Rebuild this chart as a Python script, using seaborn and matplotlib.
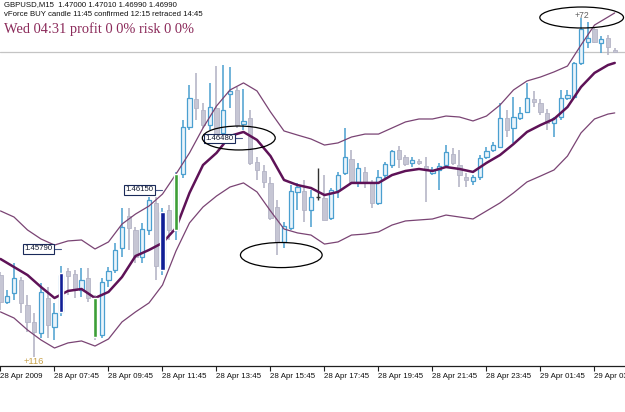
import numpy as np
import pandas as pd
import seaborn as sns
import matplotlib.pyplot as plt
from matplotlib.patches import Ellipse

# GBPUSD M15, 28 Apr 2009 05:45 -> 29 Apr 04:30
TICK_BARS = [0, 8, 16, 24, 32, 40, 48, 56, 64, 72, 80, 88]
TICK_LABELS = ["28 Apr 2009", "28 Apr 07:45", "28 Apr 09:45", "28 Apr 11:45",
               "28 Apr 13:45", "28 Apr 15:45", "28 Apr 17:45", "28 Apr 19:45",
               "28 Apr 21:45", "28 Apr 23:45", "29 Apr 01:45", "29 Apr 03:45"]

OPEN = [1.45628, 1.45464, 1.45519, 1.45598, 1.45445, 1.45342, 1.45275, 1.45488, 1.45311, 1.45403,
        1.45653, 1.45634, 1.45537, 1.45610, 1.45488, 1.45262, 1.45598, 1.45659, 1.45793, 1.45988,
        1.45903, 1.45738, 1.45903, 1.46068, 1.45671, 1.46025, 1.45903, 1.46244, 1.46531, 1.46702,
        1.46635, 1.46543, 1.46647, 1.46495, 1.46732, 1.46757, 1.46549, 1.46586, 1.46318, 1.46263,
        1.46190, 1.46043, 1.45830, 1.45915, 1.46135, 1.46141, 1.46025, 1.46104, 1.46098, 1.45976,
        1.46147, 1.46250, 1.46336, 1.46196, 1.46257, 1.46196, 1.46068, 1.46238, 1.46299, 1.46391,
        1.46348, 1.46312, 1.46324, 1.46293, 1.46250, 1.46269, 1.46299, 1.46366, 1.46299, 1.46226,
        1.46202, 1.46226, 1.46348, 1.46391, 1.46409, 1.46586, 1.46525, 1.46586, 1.46623, 1.46702,
        1.46678, 1.46617, 1.46556, 1.46592, 1.46708, 1.46714, 1.46922, 1.47050, 1.47129, 1.47044,
        1.47074, 1.47000]
HIGH = [1.45647, 1.45537, 1.45702, 1.45616, 1.45506, 1.45397, 1.45580, 1.45555, 1.45458, 1.45683,
        1.45671, 1.45659, 1.45671, 1.45671, 1.45506, 1.45610, 1.45677, 1.45824, 1.46037, 1.46037,
        1.45921, 1.45946, 1.46104, 1.46104, 1.46037, 1.46055, 1.46257, 1.46574, 1.46787, 1.46861,
        1.46678, 1.46800, 1.46903, 1.46909, 1.46897, 1.46775, 1.46763, 1.46635, 1.46348, 1.46299,
        1.46226, 1.46086, 1.45952, 1.46177, 1.46190, 1.46208, 1.46147, 1.46281, 1.46238, 1.46159,
        1.46257, 1.46525, 1.46391, 1.46312, 1.46287, 1.46208, 1.46269, 1.46318, 1.46391, 1.46415,
        1.46360, 1.46348, 1.46336, 1.46348, 1.46287, 1.46312, 1.46421, 1.46403, 1.46391, 1.46250,
        1.46238, 1.46360, 1.46409, 1.46440, 1.46678, 1.46635, 1.46714, 1.46653, 1.46800, 1.46751,
        1.46702, 1.46641, 1.46592, 1.46757, 1.46757, 1.46928, 1.47196, 1.47172, 1.47141, 1.47086,
        1.47092, 1.47010]
LOW = [1.45415, 1.45451, 1.45476, 1.45397, 1.45281, 1.45128, 1.45244, 1.45244, 1.45232, 1.45378,
       1.45506, 1.45488, 1.45494, 1.45464, 1.45232, 1.45244, 1.45555, 1.45641, 1.45738, 1.45781,
       1.45702, 1.45702, 1.45872, 1.45598, 1.45628, 1.45842, 1.45842, 1.46220, 1.46513, 1.46574,
       1.46525, 1.46513, 1.46440, 1.46452, 1.46647, 1.46525, 1.46513, 1.46299, 1.46208, 1.46159,
       1.45964, 1.45750, 1.45793, 1.45903, 1.46025, 1.45952, 1.45921, 1.46086, 1.45964, 1.45964,
       1.46098, 1.46238, 1.46190, 1.46165, 1.46159, 1.46037, 1.46055, 1.46220, 1.46281, 1.46281,
       1.46293, 1.46287, 1.46299, 1.46074, 1.46238, 1.46147, 1.46287, 1.46299, 1.46165, 1.46165,
       1.46177, 1.46208, 1.46336, 1.46379, 1.46403, 1.46470, 1.46434, 1.46574, 1.46617, 1.46653,
       1.46604, 1.46513, 1.46470, 1.46574, 1.46696, 1.46708, 1.46909, 1.47013, 1.47044, 1.46983,
       1.46970, 1.46990]
CLOSE = [1.45464, 1.45500, 1.45610, 1.45458, 1.45342, 1.45281, 1.45525, 1.45323, 1.45397, 1.45628,
         1.45622, 1.45537, 1.45598, 1.45488, 1.45250, 1.45586, 1.45653, 1.45781, 1.45921, 1.45915,
         1.45738, 1.45909, 1.46086, 1.45683, 1.46013, 1.45903, 1.46238, 1.46531, 1.46708, 1.46647,
         1.46543, 1.46653, 1.46452, 1.46635, 1.46751, 1.46543, 1.46568, 1.46312, 1.46269, 1.46196,
         1.45976, 1.45830, 1.45927, 1.46141, 1.46165, 1.46025, 1.46104, 1.46104, 1.45964, 1.46147,
         1.46238, 1.46348, 1.46196, 1.46281, 1.46190, 1.46068, 1.46226, 1.46305, 1.46385, 1.46336,
         1.46305, 1.46330, 1.46312, 1.46269, 1.46269, 1.46293, 1.46379, 1.46312, 1.46238, 1.46208,
         1.46226, 1.46342, 1.46385, 1.46421, 1.46586, 1.46513, 1.46592, 1.46617, 1.46708, 1.46684,
         1.46623, 1.46556, 1.46586, 1.46708, 1.46726, 1.46922, 1.47129, 1.47074, 1.47050, 1.47068,
         1.47019, 1.46990]

# bollinger bands (20) read every second bar
BAND_BARS = list(range(0, 91, 2)) + [91]
MIDDLE = [1.45726, 1.45677, 1.45628, 1.45555, 1.45488, 1.45531, 1.45543, 1.45488, 1.45525, 1.45616,
          1.45744, 1.45781, 1.45824, 1.45915, 1.46129, 1.46299, 1.46373, 1.46476, 1.46501, 1.46452,
          1.46354, 1.46208, 1.46177, 1.46159, 1.46116, 1.46135, 1.46190, 1.46190, 1.46190, 1.46238,
          1.46263, 1.46275, 1.46263, 1.46287, 1.46275, 1.46257, 1.46312, 1.46360, 1.46427, 1.46501,
          1.46543, 1.46580, 1.46653, 1.46775, 1.46861, 1.46909, 1.46922]
UPPER = [1.46019, 1.45982, 1.45903, 1.45848, 1.45811, 1.45836, 1.45842, 1.45787, 1.45830, 1.45939,
         1.46000, 1.46049, 1.46122, 1.46244, 1.46373, 1.46525, 1.46659, 1.46757, 1.46800, 1.46751,
         1.46623, 1.46507, 1.46482, 1.46458, 1.46421, 1.46434, 1.46470, 1.46488, 1.46488, 1.46525,
         1.46562, 1.46580, 1.46580, 1.46598, 1.46592, 1.46568, 1.46598, 1.46665, 1.46757, 1.46812,
         1.46836, 1.46867, 1.46903, 1.47031, 1.47153, 1.47202, 1.47227]
LOWER = [1.45403, 1.45366, 1.45293, 1.45232, 1.45183, 1.45214, 1.45226, 1.45195, 1.45238, 1.45342,
         1.45403, 1.45458, 1.45567, 1.45775, 1.45946, 1.46043, 1.46110, 1.46165, 1.46190, 1.46135,
         1.46019, 1.45909, 1.45885, 1.45872, 1.45817, 1.45830, 1.45872, 1.45878, 1.45891, 1.45933,
         1.45958, 1.45964, 1.45970, 1.45994, 1.45982, 1.45970, 1.46019, 1.46068, 1.46129, 1.46196,
         1.46232, 1.46269, 1.46354, 1.46495, 1.46580, 1.46610, 1.46617]

# vForce signal / confirmation bars
VF_BARS = [9, 14, 24, 26]
VF_TOP = [1.45641, 1.45488, 1.46013, 1.46244]
VF_BOTTOM = [1.45403, 1.45250, 1.45659, 1.45903]
VF_KIND = ["signal", "confirm", "signal", "confirm"]

LEVEL_BARS = [5.6, 20.6, 32.4]
LEVEL_PRICES = [1.45787, 1.46147, 1.46461]
LEVEL_TEXT = ["1.45790", "1.46150", "1.46480"]

BID = 1.46990

BULL_EDGE = "#4a9fd0"
BULL_FILL = "#eaf4fb"
BEAR_COLOR = "#c6c6d4"
BAND_COLOR = "#7a4474"
MA_COLOR = "#5e1257"


def draw_candles(ax, df):
    bull = df["close"] > df["open"]
    bear = df["close"] < df["open"]
    doji = df["close"] == df["open"]
    body_lo = df[["open", "close"]].min(axis=1)
    body_h = (df["close"] - df["open"]).abs()

    ax.vlines(df.loc[bull, "bar"], df.loc[bull, "low"], df.loc[bull, "high"],
              color=BULL_EDGE, lw=1.1, zorder=2)
    ax.vlines(df.loc[bear, "bar"], df.loc[bear, "low"], df.loc[bear, "high"],
              color="#b0b0c2", lw=1.1, zorder=2)
    ax.vlines(df.loc[doji, "bar"], df.loc[doji, "low"], df.loc[doji, "high"],
              color="#303030", lw=1.0, zorder=2)
    ax.hlines(df.loc[doji, "close"], df.loc[doji, "bar"] - 0.3, df.loc[doji, "bar"] + 0.3,
              color="#303030", lw=1.0, zorder=3)

    ax.bar(df.loc[bull, "bar"], body_h[bull], bottom=body_lo[bull], width=0.6,
           color=BULL_FILL, edgecolor=BULL_EDGE, linewidth=0.9, zorder=3)
    ax.bar(df.loc[bear, "bar"], body_h[bear].clip(lower=0.00003), bottom=body_lo[bear],
           width=0.6, color=BEAR_COLOR, edgecolor="#b4b4c6", linewidth=0.6, zorder=3)


def main():
    sns.set_theme(style="white")
    plt.rcParams["font.family"] = ["Liberation Sans", "DejaVu Sans"]

    candles = pd.DataFrame({"bar": np.arange(len(OPEN)), "open": OPEN, "high": HIGH,
                            "low": LOW, "close": CLOSE})
    bands = pd.DataFrame({"bar": BAND_BARS, "middle": MIDDLE, "upper": UPPER, "lower": LOWER})

    fig = plt.figure(figsize=(6.25, 4.12), dpi=100)
    ax = fig.add_axes([0, 46 / 412, 1, 366 / 412])

    ax.axhline(BID, color="#c4c4c4", lw=0.9, zorder=1)

    sns.lineplot(data=bands, x="bar", y="upper", ax=ax, color=BAND_COLOR, lw=0.9, zorder=4)
    sns.lineplot(data=bands, x="bar", y="lower", ax=ax, color=BAND_COLOR, lw=0.9, zorder=4)

    draw_candles(ax, candles)

    sns.lineplot(data=bands, x="bar", y="middle", ax=ax, color=MA_COLOR, lw=1.8, zorder=5)

    # vForce bars
    for bar, top, bot, kind in zip(VF_BARS, VF_TOP, VF_BOTTOM, VF_KIND):
        ax.bar(bar, top - bot, bottom=bot, width=0.62,
               color="#101e96" if kind == "signal" else "#3c9e38", zorder=6)

    # price level boxes
    for bar, price, txt in zip(LEVEL_BARS, LEVEL_PRICES, LEVEL_TEXT):
        ax.plot([bar + 2.25, bar + 3.4], [price, price], color="#4a5a8a", lw=0.8, zorder=7)
        ax.text(bar, price, txt, fontsize=5.6, color="#101830", ha="center", va="center",
                zorder=8, bbox=dict(boxstyle="square,pad=0.18", fc="white", ec="#1a2a5a", lw=0.8))

    # hand drawn ellipses
    for cx, cy, w, h in [(35.3, 1.46464, 10.8, 0.00146),
                         (41.6, 1.45750, 12.1, 0.00153),
                         (86.1, 1.47199, 12.4, 0.00128)]:
        ax.add_patch(Ellipse((cx, cy), w, h, fill=False, ec="black", lw=0.9, zorder=9))

    ax.text(86.2, 1.47214, "+72", fontsize=6.2, color="#606060", ha="center", va="center", zorder=9)
    ax.text(4.9, 1.45098, "+116", fontsize=6.8, color="#c8a24a", ha="center", va="center", zorder=9)

    ax.set_xlim(-0.074, 92.52)
    ax.set_ylim(1.450732, 1.473058)
    ax.set_xticks(TICK_BARS)
    ax.set_xticklabels(TICK_LABELS, ha="left", fontsize=5.7, color="#101010")
    ax.set_yticks([])
    ax.set(xlabel="", ylabel="")
    ax.tick_params(axis="x", direction="out", length=3.5, width=0.8, color="#202020", pad=1.5,
                   bottom=True)
    for side in ["top", "left", "right"]:
        ax.spines[side].set_visible(False)
    ax.spines["bottom"].set_color("#202020")
    ax.spines["bottom"].set_linewidth(0.9)
    ax.set_facecolor("white")

    fig.text(4 / 625, 1 - 4.5 / 412, "GBPUSD,M15  1.47000 1.47010 1.46990 1.46990",
             fontsize=5.6, color="#101010", va="center")
    fig.text(4 / 625, 1 - 15 / 412, "vForce BUY candle 11:45 confirmed 12:15 retraced 14:45",
             fontsize=5.6, color="#101010", va="center")
    fig.text(4 / 625, 1 - 29 / 412, "Wed 04:31 profit 0 0% risk 0 0%",
             fontsize=10.4, color="#8b2a5a", va="center", family="Liberation Serif")

    fig.savefig("out.png", dpi=100, facecolor="white")


if __name__ == "__main__":
    main()
